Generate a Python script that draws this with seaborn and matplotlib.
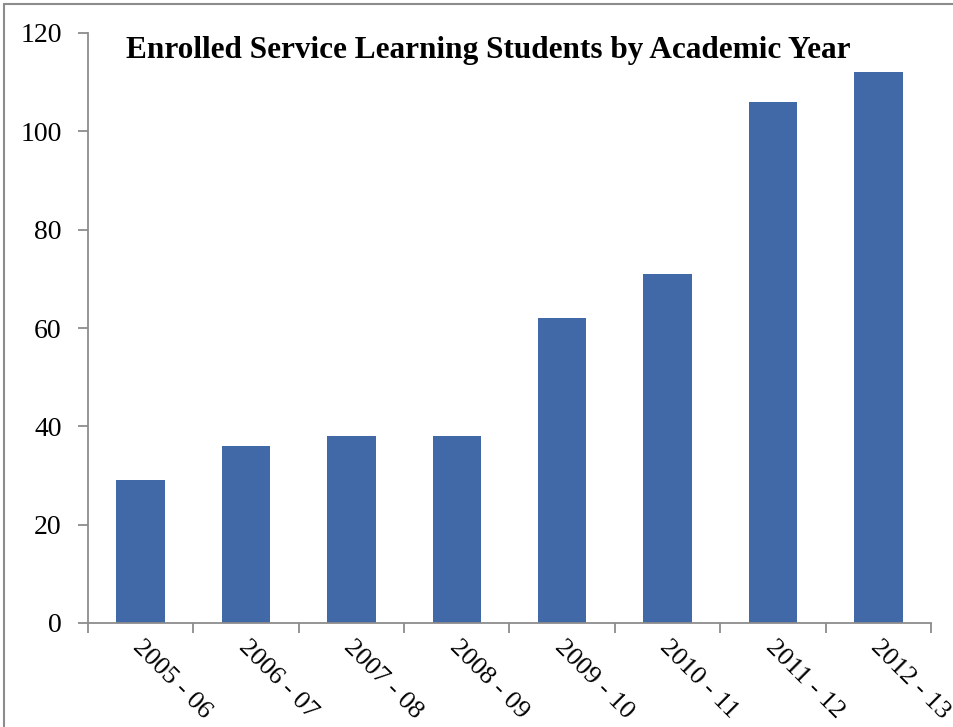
import matplotlib
matplotlib.use("Agg")
import matplotlib.pyplot as plt
import seaborn as sns
import pandas as pd
from matplotlib.lines import Line2D
from matplotlib.transforms import ScaledTranslation

years = ["2005 - 06", "2006 - 07", "2007 - 08", "2008 - 09",
         "2009 - 10", "2010 - 11", "2011 - 12", "2012 - 13"]
students = [29, 36, 38, 38, 62, 71, 106, 112]
yticks = [0, 20, 40, 60, 80, 100, 120]
title = "Enrolled Service Learning Students by Academic Year"

df = pd.DataFrame({"year": years, "students": students})

sns.set_theme(style="white")
plt.rcParams["font.family"] = ["Liberation Serif", "DejaVu Serif"]

fig = plt.figure(figsize=(9.54, 7.27), dpi=100)
ax = fig.add_axes([88/954, 104/727, (931-88)/954, (623-33)/727])

sns.barplot(data=df, x="year", y="students", color="#4169A8",
            width=0.46, saturation=1, linewidth=0, ax=ax)

ax.set_xlim(-0.5, len(years) - 0.5)
ax.set_ylim(0, 120)
ax.set_yticks(yticks)
ax.set_xlabel("")
ax.set_ylabel("")

axis_color = "#8C8C8C"
for side in ["top", "right"]:
    ax.spines[side].set_visible(False)
for side in ["left", "bottom"]:
    ax.spines[side].set_color(axis_color)
    ax.spines[side].set_linewidth(1.3)

ax.tick_params(axis="y", which="major", left=True, length=7, width=1.3,
               color=axis_color, labelsize=20, pad=12, labelcolor="black")
ax.tick_params(axis="x", which="major", length=0, labelsize=19, pad=15,
               labelcolor="black")
ax.set_xticks([i - 0.5 for i in range(len(years) + 1)], minor=True)
ax.tick_params(axis="x", which="minor", bottom=True, length=7, width=1.3,
               color=axis_color)

shift = ScaledTranslation(-4/100, 0, fig.dpi_scale_trans)
for lbl in ax.get_xticklabels():
    lbl.set_rotation(-45)
    lbl.set_ha("left")
    lbl.set_va("center")
    lbl.set_rotation_mode("anchor")
    lbl.set_transform(lbl.get_transform() + shift)

ax.text(0.475, 0.995, title, transform=ax.transAxes, ha="center", va="top",
        fontsize=22.5, fontweight="bold", color="black")

# outer frame (partially cropped)
fig.add_artist(Line2D([4/954, 1], [1 - 4/727, 1 - 4/727], color="#8C8C8C",
                      lw=1.5, transform=fig.transFigure))
fig.add_artist(Line2D([4/954, 4/954], [0, 1 - 4/727], color="#8C8C8C",
                      lw=1.5, transform=fig.transFigure))

fig.savefig("out.png", dpi=100)
